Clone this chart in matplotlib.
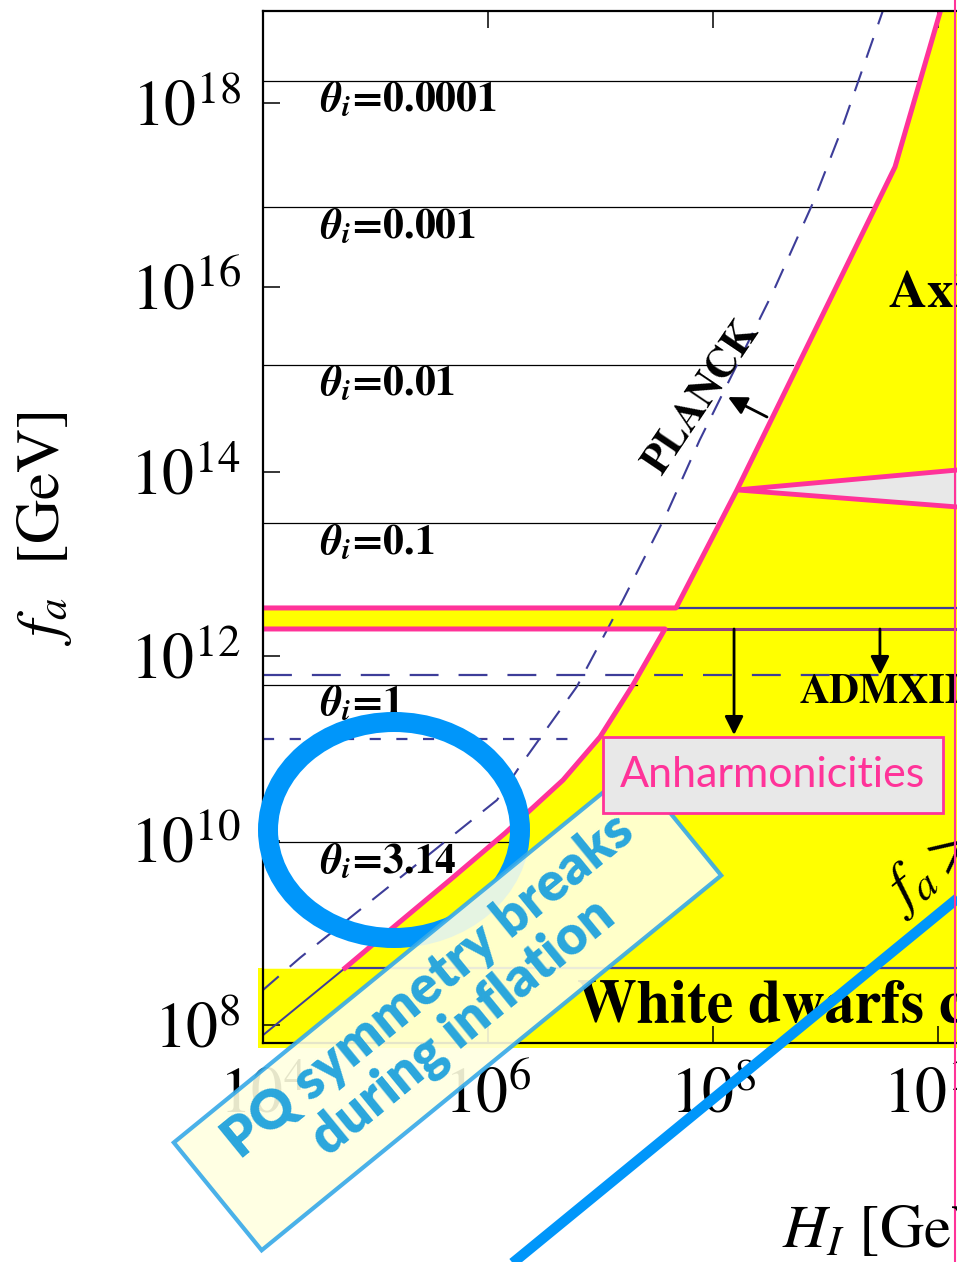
#!/usr/bin/env python3
"""Axion parameter space f_a vs H_I (PQ symmetry broken during inflation)."""

import matplotlib

matplotlib.use("Agg")
import matplotlib.pyplot as plt
import matplotlib.transforms as mtransforms
import numpy as np
from matplotlib.lines import Line2D
from matplotlib.patches import Ellipse, Rectangle
from matplotlib.ticker import FixedFormatter, FixedLocator, NullLocator

plt.rcParams["font.family"] = ["STIXGeneral", "DejaVu Serif"]
plt.rcParams["mathtext.fontset"] = "stix"

PINK = "#FF3399"
NAVY = "#3D3D99"
YELLOW = "#FFFF00"
GRAY = "#E8E8E8"
BLUE = "#0096FA"
LIGHT_BLUE = "#2AA6DC"

# all values are log10 of GeV
THETA_LABELS = ["0.0001", "0.001", "0.01", "0.1", "1", "3.14"]
THETA_LOG_FA = [18.24, 16.87, 15.16, 13.445, 11.69, 9.985]
THETA_LOG_HI_END = [9.82, 9.44, 8.71, 8.02, 7.32, 6.2]

UPPER_LOG_HI = [4.0, 7.671, 8.213, 9.618, 10.07]
UPPER_LOG_FA = [12.523, 12.523, 13.803, 17.306, 19.2]

LOWER_LOG_HI = [4.0, 7.573, 7.289, 6.996, 6.667, 6.151, 5.662, 5.129, 4.729, 4.0]
LOWER_LOG_FA = [12.295, 12.295, 11.69, 11.124, 10.657, 10.08, 9.573, 9.03, 8.618, 8.618]

WEDGE_LOG_HI = [8.213, 11.0, 11.0]
WEDGE_LOG_FA = [13.803, 14.11, 13.54]

PLANCK_LOG_HI = [4.0, 4.33, 5.19, 6.08, 6.28, 6.79, 7.20, 7.59, 7.88, 8.53, 8.89, 9.13, 9.51]
PLANCK_LOG_FA = [8.38, 8.73, 9.57, 10.44, 10.80, 11.67, 12.61, 13.55, 14.34, 15.94, 16.92, 17.67, 19.0]

BAND_TOP_LOG_FA = 12.523
BAND_BOTTOM_LOG_FA = 12.295
ADMX_LOG_FA = 11.80
DOTTED_LOG_FA = 11.10
DOTTED_LOG_HI_END = 6.844
WD_LOG_FA = 8.618
WD_DIAG_LOG_HI = [4.0, 4.729]
WD_DIAG_LOG_FA = [7.89, 8.618]

FA_EQ_LOG_HI = [6.0, 11.0]
FA_EQ_LOG_FA = [5.2, 10.2]

X_TICKS = [4, 6, 8, 10]
Y_TICKS = [8, 10, 12, 14, 16, 18]


def p(v):
    return 10.0 ** np.asarray(v, dtype=float)


def main() -> None:
    fig = plt.figure(figsize=(9.57, 12.62), dpi=100)
    ax = fig.add_axes([0.27482, 0.17353, 0.82288, 0.81799])
    ax.set_xscale("log")
    ax.set_yscale("log")
    ax.set_facecolor(YELLOW)

    # yellow white-dwarf band spills slightly outside the frame
    ax.add_patch(Rectangle((p(3.956), p(7.751)), p(11) - p(3.956), p(WD_LOG_FA) - p(7.751),
                           fc=YELLOW, ec="none", clip_on=False, zorder=0.2))

    # white (allowed) regions
    up_x = [4.0] + UPPER_LOG_HI
    up_y = [19.2] + UPPER_LOG_FA
    ax.fill(p(up_x), p(up_y), color="white", zorder=1)
    ax.fill(p(LOWER_LOG_HI), p(LOWER_LOG_FA), color="white", zorder=1)
    ax.fill(p(WEDGE_LOG_HI), p(WEDGE_LOG_FA), fc=GRAY, ec=PINK, lw=3.5, zorder=4)

    # theta_i contours
    for lbl, fa, end in zip(THETA_LABELS, THETA_LOG_FA, THETA_LOG_HI_END):
        ax.plot(p([4.0, end]), p([fa, fa]), color="black", lw=0.9, zorder=2)
        ax.annotate(r"$\mathbfit{\theta}_{\mathbfit{i}}$=" + lbl, xy=(p(4.507), p(fa)),
                    xytext=(0, -31), textcoords="offset pixels", fontsize=30,
                    fontweight="bold", ha="left", va="baseline", zorder=5)

    # navy lines
    ax.plot(p([UPPER_LOG_HI[1], 11]), p([BAND_TOP_LOG_FA] * 2), color=NAVY, lw=1.6, zorder=3)
    ax.plot(p([LOWER_LOG_HI[1], 11]), p([BAND_BOTTOM_LOG_FA] * 2), color="#94407F", lw=2.2, zorder=3)
    ax.plot(p([LOWER_LOG_HI[-2], 11]), p([WD_LOG_FA] * 2), color=NAVY, lw=1.6, zorder=3)
    ax.plot(p(WD_DIAG_LOG_HI), p(WD_DIAG_LOG_FA), color=NAVY, lw=1.4, zorder=3)
    ax.plot(p([4, 11]), p([ADMX_LOG_FA] * 2), color=NAVY, lw=1.6, dashes=(13, 9), zorder=3)
    ax.plot(p([4, DOTTED_LOG_HI_END]), p([DOTTED_LOG_FA] * 2), color=NAVY, lw=1.6,
            dashes=(5, 7), zorder=3)
    ax.plot(p(PLANCK_LOG_HI), p(PLANCK_LOG_FA), color=NAVY, lw=1.5, dashes=(10, 7), zorder=3)

    # pink boundaries
    ax.plot(p(UPPER_LOG_HI), p(UPPER_LOG_FA), color=PINK, lw=3.6, zorder=4)
    ax.plot(p(LOWER_LOG_HI[:-1]), p(LOWER_LOG_FA[:-1]), color=PINK, lw=3.6, zorder=4)

    # arrows
    arrow = dict(arrowstyle="-|>", color="black", lw=2.0, mutation_scale=28,
                 shrinkA=0, shrinkB=0)
    ax.annotate("", xy=(p(8.133), p(14.81)), xytext=(p(8.48), p(14.594)), arrowprops=arrow, zorder=5)
    ax.annotate("", xy=(p(8.187), p(11.145)), xytext=(p(8.187), p(BAND_BOTTOM_LOG_FA)),
                arrowprops=arrow, zorder=5)
    ax.annotate("", xy=(p(9.484), p(11.796)), xytext=(p(9.484), p(BAND_BOTTOM_LOG_FA)),
                arrowprops=arrow, zorder=5)

    # labels inside the plot
    ax.text(p(7.902), p(14.8), "PLANCK", rotation=56, ha="center", va="center",
            fontsize=30, fontweight="bold", zorder=5)
    ax.text(p(9.564), p(15.787), "Axion DM overproduced", ha="left", va="baseline",
            fontsize=38, fontweight="bold", zorder=5)
    ax.text(p(8.773), p(11.49), "ADMXII", ha="left", va="baseline",
            fontsize=30, fontweight="bold", zorder=5)
    ax.text(p(6.791), p(8.032), "White dwarfs cooling", ha="left", va="baseline",
            fontsize=43, fontweight="bold", zorder=5)
    ax.text(p(9.66), p(9.22), r"$f_a > H_I/2\pi$", rotation=39, rotation_mode="anchor",
            ha="left", va="baseline", fontsize=44, zorder=7, clip_on=False)

    # f_a = H_I / 2pi line
    ax.plot(p(FA_EQ_LOG_HI), p(FA_EQ_LOG_FA), color=BLUE, lw=7.5, clip_on=False,
            solid_capstyle="butt", zorder=6)

    # highlight ring
    ring = Ellipse((3.94, 4.32), 2.52, 2.16, fc="none", ec=BLUE, lw=14.4,
                   transform=fig.dpi_scale_trans, clip_on=False, zorder=6)
    ax.add_artist(ring)

    # PQ box
    box_tr = mtransforms.Affine2D().rotate_deg(39.2).translate(4.475, 2.53) + fig.dpi_scale_trans
    box = Rectangle((-2.965, -0.695), 5.93, 1.39, fc="#FFFFE0", ec="#36A9E8", lw=3,
                    alpha=0.9, transform=box_tr, clip_on=False, zorder=7)
    ax.add_artist(box)
    ax.text(0, 0.02, "PQ symmetry breaks\nduring inflation", transform=box_tr, rotation=39.2,
            rotation_mode="anchor", ha="center", va="center", multialignment="center",
            family=["Lato", "DejaVu Sans"], fontweight="heavy", fontsize=39,
            color=LIGHT_BLUE, linespacing=1.08, zorder=7.5, clip_on=False)

    # Anharmonicities box
    ax.add_patch(Rectangle((p(7.022), p(10.299)), p(10.044) - p(7.022), p(11.124) - p(10.299),
                           fc=GRAY, ec=PINK, lw=2, zorder=8, clip_on=False))
    ax.text(p(8.533), p(10.71), "Anharmonicities", ha="center", va="center",
            family=["Lato", "DejaVu Sans"], fontsize=31, color=PINK, zorder=9)

    # axes
    ax.set_xlim(p(4), p(11))
    ax.set_ylim(p(7.805), p(19.0))
    ax.xaxis.set_major_locator(FixedLocator(p(X_TICKS)))
    ax.xaxis.set_major_formatter(FixedFormatter([rf"$10^{{{t}}}$" for t in X_TICKS]))
    ax.yaxis.set_major_locator(FixedLocator(p(Y_TICKS)))
    ax.yaxis.set_major_formatter(FixedFormatter([rf"$10^{{{t}}}$" for t in Y_TICKS]))
    ax.xaxis.set_minor_locator(NullLocator())
    ax.yaxis.set_minor_locator(NullLocator())
    ax.tick_params(which="major", direction="in", length=12, width=1.1,
                   top=True, right=True, labelsize=46)
    ax.tick_params(axis="x", pad=18)
    ax.tick_params(axis="y", pad=16)
    for sp in ax.spines.values():
        sp.set_linewidth(1.6)
        sp.set_zorder(5)

    fig.text(782 / 957, 15 / 1262, r"$H_I$ [GeV]", ha="left", va="baseline", fontsize=44)
    fig.text(45 / 957, 1 - 528 / 1262, r"$f_a$  [GeV]", rotation=90, ha="center",
             va="center", fontsize=44)
    fig.add_artist(Line2D([955 / 957] * 2, [0, 1], transform=fig.transFigure, color=PINK, lw=1.5))

    fig.savefig("out.png", dpi=100)


if __name__ == "__main__":
    main()
